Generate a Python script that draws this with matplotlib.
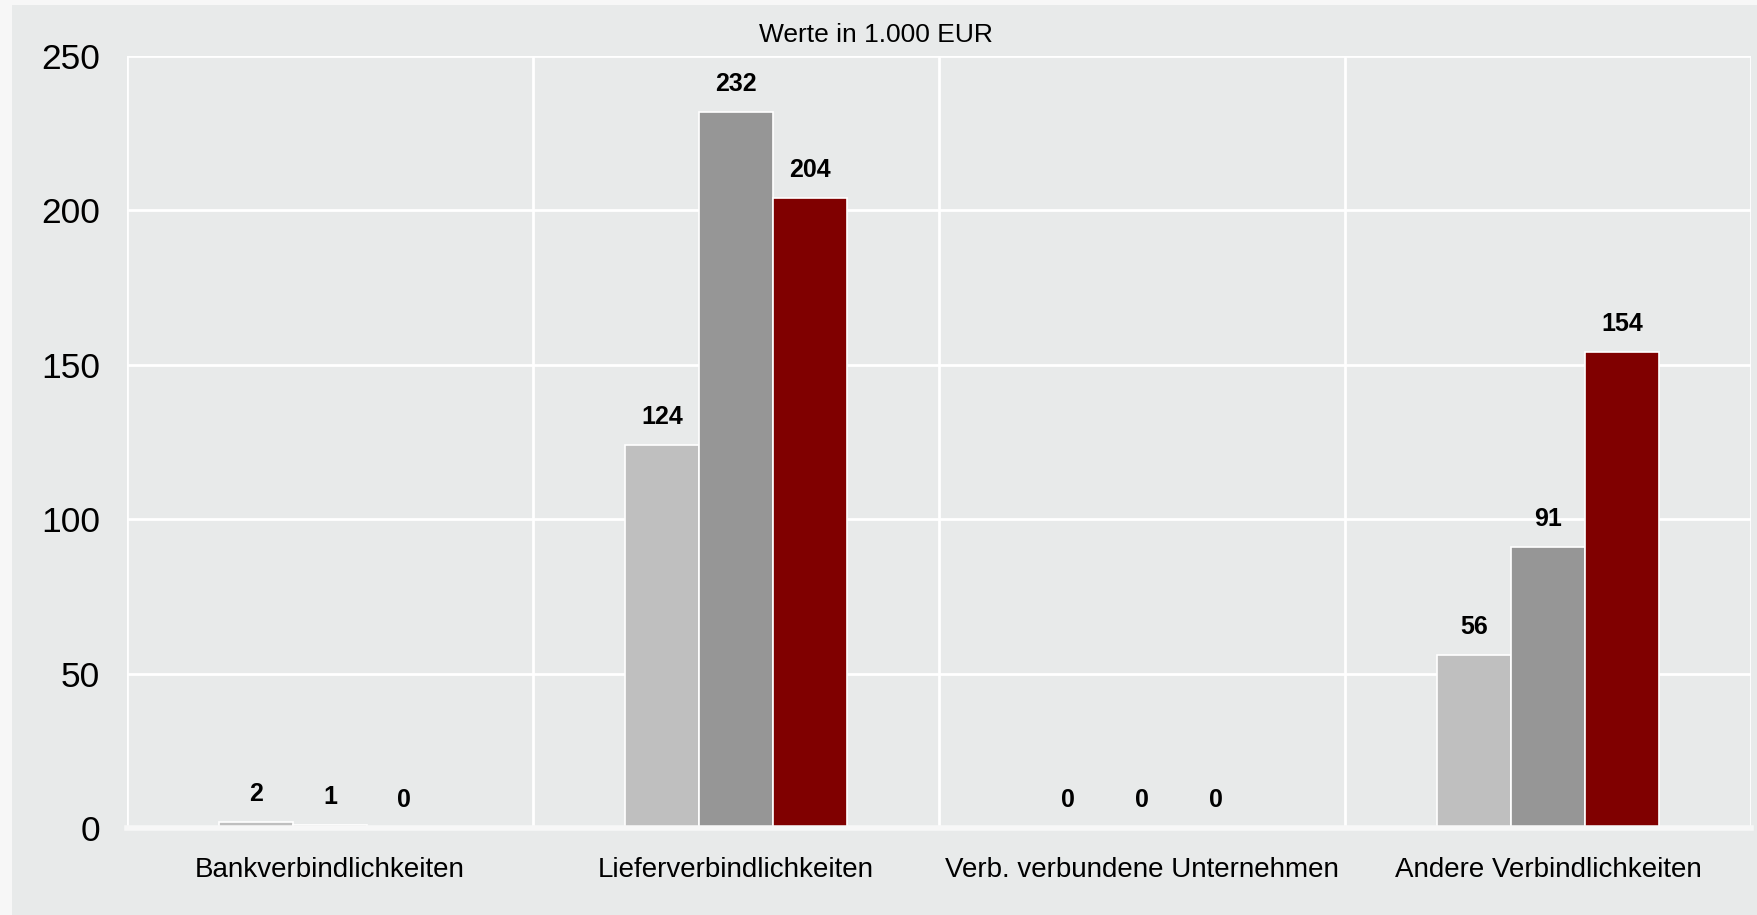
import matplotlib.pyplot as plt
from matplotlib.patches import Rectangle
import numpy as np

plt.rcParams['font.family'] = ['Liberation Sans', 'DejaVu Sans']

kategorien = ['Bankverbindlichkeiten', 'Lieferverbindlichkeiten',
              'Verb. verbundene Unternehmen', 'Andere Verbindlichkeiten']
jahr1 = [2, 124, 0, 56]
jahr2 = [1, 232, 0, 91]
jahr3 = [0, 204, 0, 154]
farben = ['#bfbfbf', '#969696', '#800000']
y_ticks = [0, 50, 100, 150, 200, 250]

fig = plt.figure(figsize=(17.58, 9.15), dpi=100)
fig.patch.set_facecolor('#f7f7f7')
# innere Flaeche
fig.patches.append(Rectangle((12 / 1758, 0), 1, 1 - 5 / 915, transform=fig.transFigure,
                             facecolor='#e8eaea', edgecolor='none', zorder=-1))

ax = fig.add_axes([127 / 1758, 1 - 828 / 915, (1751 - 127) / 1758, (828 - 56) / 915])
ax.set_facecolor('#e8eaea')

x = np.arange(len(kategorien))
b = 0.182
for i, werte in enumerate([jahr1, jahr2, jahr3]):
    pos = x + (i - 1) * b
    ax.bar(pos, werte, width=b, color=farben[i], edgecolor='white', linewidth=1.2, zorder=3)
    for px, v in zip(pos, werte):
        ax.annotate(str(v), (px, v), xytext=(0, 28), textcoords='offset pixels',
                    ha='center', va='center', fontsize=18, fontweight='bold', color='black')

ax.set_xlim(-0.5, len(kategorien) - 0.5)
ax.set_ylim(0, 250)
ax.set_yticks(y_ticks)
ax.set_yticklabels([str(t) for t in y_ticks], fontsize=25.5)
ax.set_xticks(x)
ax.set_xticklabels(kategorien, fontsize=20)
ax.tick_params(axis='both', length=0)
ax.tick_params(axis='y', pad=19.5)
ax.tick_params(axis='x', pad=21)

ax.grid(axis='y', color='white', linewidth=2, zorder=1)
for gx in np.arange(-0.5, len(kategorien), 1.0):
    ax.axvline(gx, color='white', linewidth=2, zorder=1)
for s in ax.spines.values():
    s.set_visible(False)
ax.axhline(0, color='#f7f7f7', linewidth=4, zorder=4, clip_on=False)

fig.text(876 / 1758, 1 - 35 / 915, 'Werte in 1.000 EUR', ha='center', va='center', fontsize=19)

fig.savefig('out.png', dpi=100, facecolor=fig.get_facecolor())
